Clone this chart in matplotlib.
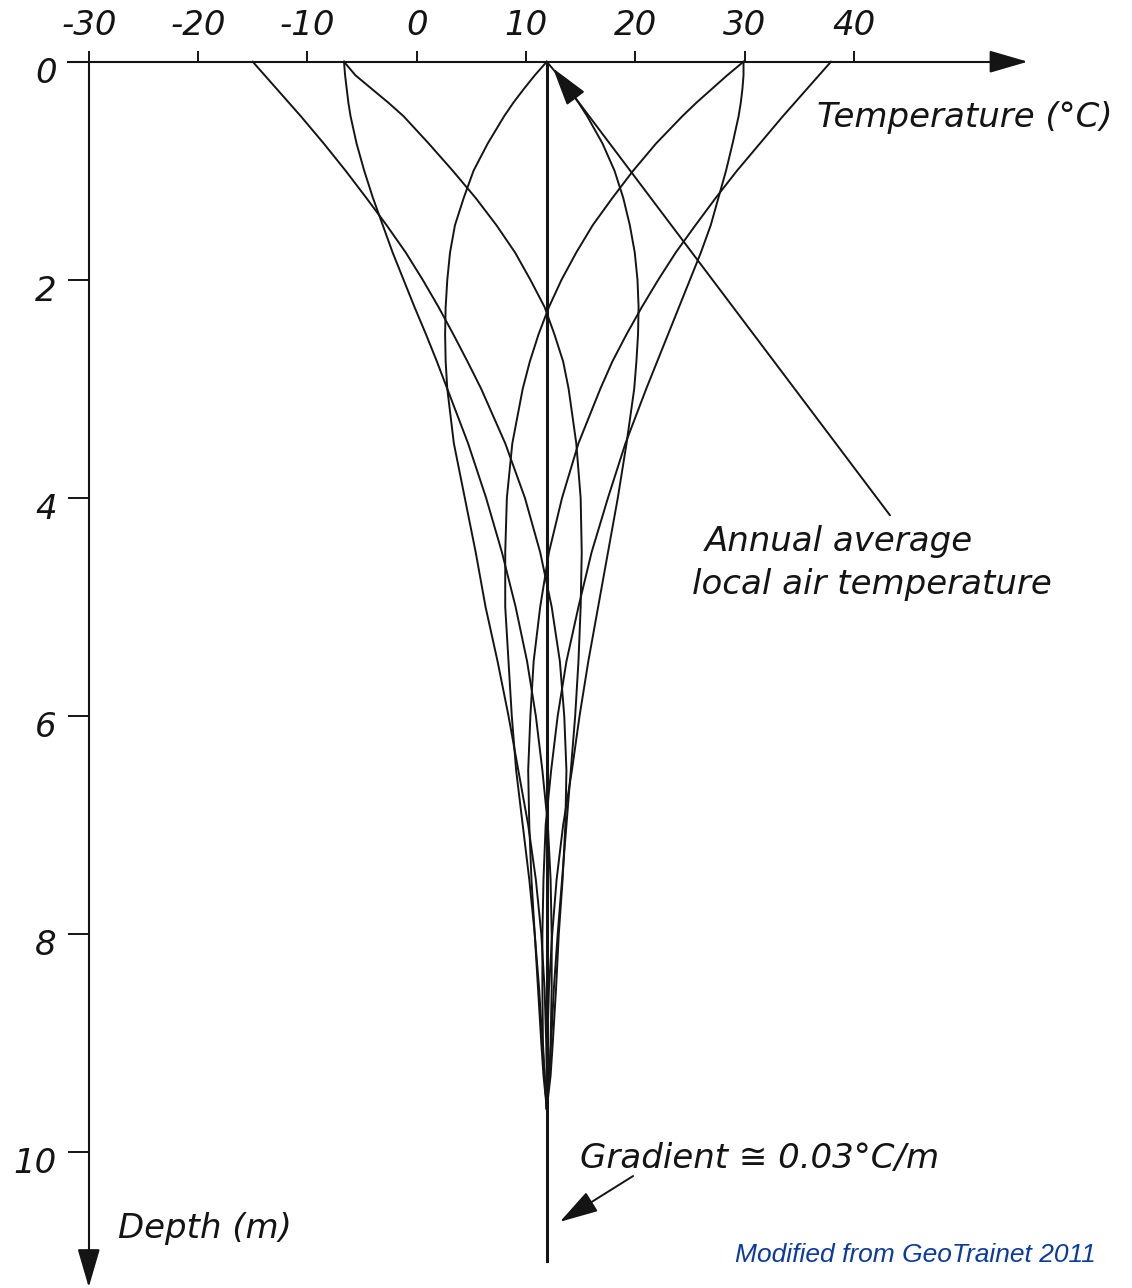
import matplotlib.pyplot as plt
from matplotlib.transforms import ScaledTranslation

# depth below ground (m)
depth = [0, 0.125, 0.25, 0.375, 0.5, 0.75, 1.0, 1.25, 1.5, 1.75, 2.0, 2.25, 2.5, 2.75,
         3.0, 3.5, 4.0, 4.5, 5.0, 5.5, 6.0, 6.5, 7.0, 7.5, 8.0, 8.5, 9.0, 9.3, 9.6]

# temperature profiles (°C), one per time of year
t_summer = [37.9, 36.8, 35.7, 34.6, 33.5, 31.4, 29.3, 27.35, 25.5, 23.7, 22.1, 20.6, 19.2, 17.9,
            16.8, 14.8, 13.3, 12.1, 11.3, 10.7, 10.4, 10.2, 10.3, 10.5, 10.8, 11.1, 11.4, 11.6, 11.9]
t_late_summer = [29.9, 29.9, 29.8, 29.65, 29.45, 28.9, 28.3, 27.6, 26.9, 26.0, 25.0, 24.0, 23.0, 22.0,
                 21.0, 19.1, 17.5, 16.0, 14.8, 13.7, 12.9, 12.3, 11.8, 11.6, 11.5, 11.5, 11.55, 11.7, 11.9]
t_autumn = [11.9, 12.95, 13.9, 14.8, 15.6, 17.0, 18.1, 18.9, 19.5, 19.95, 20.2, 20.3, 20.25, 20.1,
            19.9, 19.2, 18.4, 17.5, 16.6, 15.7, 14.9, 14.2, 13.4, 12.8, 12.4, 12.1, 11.95, 11.9, 11.9]
t_late_autumn = [-6.65, -5.6, -4.1, -2.6, -1.2, 1.1, 3.3, 5.4, 7.3, 9.0, 10.4, 11.7, 12.6, 13.4,
                 13.9, 14.6, 15.0, 15.1, 15.0, 14.8, 14.5, 14.1, 13.7, 13.3, 12.9, 12.55, 12.3, 12.1, 11.9]
t_winter = [-15.0, -13.9, -12.8, -11.7, -10.6, -8.5, -6.5, -4.6, -2.75, -1.0, 0.55, 2.0, 3.35, 4.65,
            5.9, 8.1, 9.9, 11.3, 12.35, 13.1, 13.5, 13.7, 13.6, 13.35, 13.0, 12.75, 12.45, 12.25, 11.9]
t_late_winter = [-6.65, -6.55, -6.4, -6.25, -6.05, -5.5, -4.8, -4.0, -3.1, -2.2, -1.2, -0.2, 0.85, 1.85,
                 2.8, 4.7, 6.35, 7.8, 9.05, 10.1, 10.9, 11.5, 12.0, 12.25, 12.35, 12.35, 12.25, 12.15, 11.9]
t_spring = [11.9, 10.8, 9.8, 8.85, 8.0, 6.5, 5.2, 4.3, 3.5, 3.05, 2.8, 2.65, 2.6, 2.65,
            2.8, 3.4, 4.4, 5.4, 6.3, 7.4, 8.4, 9.3, 10.2, 10.9, 11.4, 11.7, 11.85, 11.9, 11.9]
t_late_spring = [29.9, 28.4, 27.0, 25.6, 24.3, 21.9, 19.8, 17.9, 16.1, 14.6, 13.25, 12.1, 11.15, 10.35,
                 9.7, 8.75, 8.25, 8.1, 8.1, 8.4, 8.7, 9.1, 9.7, 10.3, 10.8, 11.2, 11.5, 11.7, 11.9]

mean_temp = 11.9
mean_depth = [0, 11.0]

temp_ticks = [-30, -20, -10, 0, 10, 20, 30, 40]
depth_ticks = [0, 2, 4, 6, 8, 10]

ink = '#141414'
fs = 24.5

fig = plt.figure(figsize=(11.32, 12.88), dpi=100)
ax = fig.add_axes([0, 0, 1, 1])
ax.set_xlim(-38.12, 65.44)
ax.set_ylim(11.247, -0.566)

for t in [t_summer, t_late_summer, t_autumn, t_late_autumn,
          t_winter, t_late_winter, t_spring, t_late_spring]:
    ax.plot(t, depth, color=ink, lw=1.4, solid_joinstyle='round')
ax.plot([mean_temp, mean_temp], mean_depth, color=ink, lw=2.2)

# axes as arrows
ax.spines['right'].set_visible(False)
ax.spines['bottom'].set_visible(False)
ax.spines['top'].set_position(('data', 0))
ax.spines['top'].set_bounds(-31.9, 54.0)
ax.spines['left'].set_position(('data', -30))
ax.spines['left'].set_bounds(0, 11.0)
for s in ['top', 'left']:
    ax.spines[s].set_color(ink)
    ax.spines[s].set_linewidth(1.5)

head = dict(arrowstyle='-|>,head_length=1.2,head_width=0.35', color=ink,
            lw=1.5, mutation_scale=20, shrinkA=0, shrinkB=0)
ax.annotate('', xy=(55.9, 0), xytext=(53.0, 0), arrowprops=head)
ax.annotate('', xy=(-30, 11.24), xytext=(-30, 10.9), arrowprops=head)

ax.xaxis.set_ticks_position('top')
ax.yaxis.set_ticks_position('left')
ax.set_xticks(temp_ticks)
ax.set_yticks(depth_ticks)
ax.set_xticklabels([str(v) for v in temp_ticks])
ax.set_yticklabels([str(v) for v in depth_ticks])
ax.tick_params(axis='x', direction='out', length=8, width=1.4, pad=6,
               labelsize=fs, colors=ink)
ax.tick_params(axis='y', direction='out', length=15, width=1.4, pad=8,
               labelsize=fs, colors=ink)
off = ScaledTranslation(0, -0.08, fig.dpi_scale_trans)
for lab in ax.get_yticklabels():
    lab.set_transform(lab.get_transform() + off)
for lab in ax.get_xticklabels() + ax.get_yticklabels():
    lab.set_fontstyle('italic')

# labels and notes
ax.text(36.6, 0.596, 'Temperature (°C)', fontsize=fs, style='italic', color=ink,
        va='baseline', ha='left')
ax.text(-27.33, 10.79, 'Depth (m)', fontsize=fs, style='italic', color=ink,
        va='baseline', ha='left')
ax.text(26.35, 4.49, 'Annual average', fontsize=fs, style='italic', color=ink,
        va='baseline', ha='left')
ax.text(25.2, 4.88, 'local air temperature', fontsize=fs, style='italic', color=ink,
        va='baseline', ha='left')
ax.text(14.95, 10.15, 'Gradient \u2245 0.03°C/m', fontsize=fs, style='italic',
        color=ink, va='baseline', ha='left')
ax.text(29.1, 11.01, 'Modified from GeoTrainet 2011', fontsize=19, style='italic',
        color='#0b3aa0', family='Liberation Sans', va='baseline', ha='left')

pointer = dict(arrowstyle='-|>,head_length=1.2,head_width=0.35', color=ink,
               lw=1.4, mutation_scale=20, shrinkA=0, shrinkB=0)
ax.annotate('', xy=(12.47, 0.06), xytext=(43.3, 4.16), arrowprops=pointer)
ax.annotate('', xy=(13.1, 10.64), xytext=(19.8, 10.22), arrowprops=pointer)

plt.savefig('out.png', dpi=100)
